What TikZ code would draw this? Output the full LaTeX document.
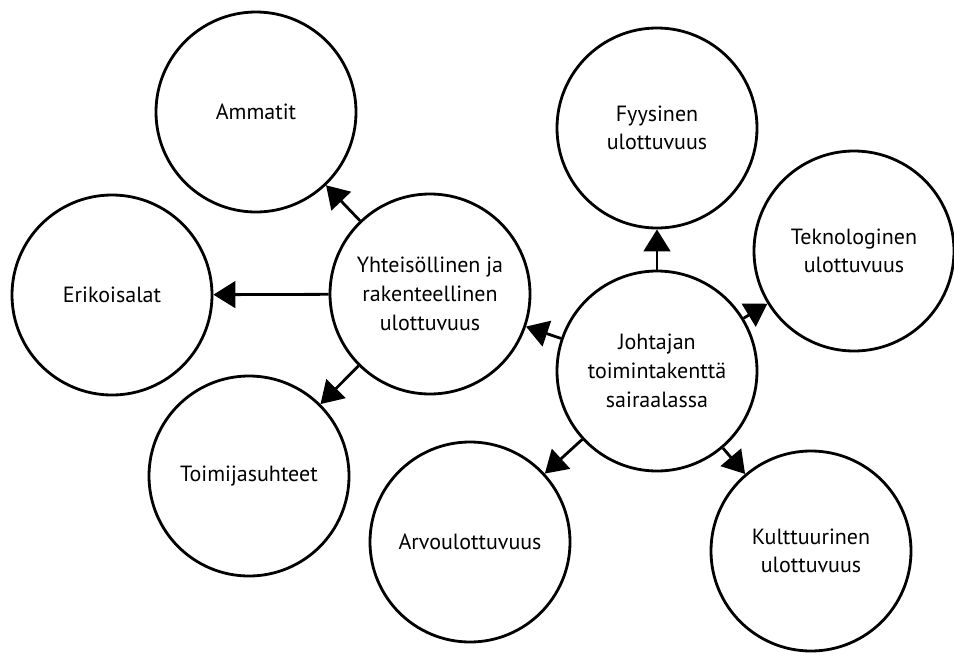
\documentclass[tikz,border=0pt]{standalone}
\usepackage{fontspec}
\setmainfont{PT Sans}
\usetikzlibrary{arrows.meta}
\tikzset{
  dimension/.style={draw, circle, line width=2.1pt, minimum size=150pt, inner sep=0pt,
    align=center, font=\fontsize{16.5}{21.5}\selectfont},
  link/.style={line width=2.1pt, -{Triangle[length=16.5pt, width=20pt]}}
}
\begin{document}
\begin{tikzpicture}[x=0.75pt, y=-0.75pt]
        \useasboundingbox (0, 0) rectangle (954, 653);
        % centre and the two branches
        \node[dimension] (johtaja) at (657, 371) {Johtajan\\toimintakenttä\\sairaalassa};
        \node[dimension] (yhteis) at (430, 294) {Yhteisöllinen ja\\rakenteellinen\\ulottuvuus};
        \node[dimension] (ammatit) at (256, 112) {Ammatit};
        \node[dimension] (erikois) at (112, 295) {Erikoisalat};
        \node[dimension] (toimija) at (249, 476) {Toimijasuhteet};
        \node[dimension] (fyys) at (657, 128) {Fyysinen\\ulottuvuus};
        \node[dimension] (tekno) at (854, 251) {Teknologinen\\ulottuvuus};
        \node[dimension] (arvo) at (470, 542) {Arvoulottuvuus};
        \node[dimension] (kult) at (811, 551) {Kulttuurinen\\ulottuvuus};
        \foreach \to in {ammatit, erikois, toimija} {
          \draw[link] (yhteis) -- (\to);
        }
        \foreach \to in {yhteis, fyys, tekno, arvo, kult} {
          \draw[link] (johtaja) -- (\to);
        }
      \end{tikzpicture}
\end{document}
